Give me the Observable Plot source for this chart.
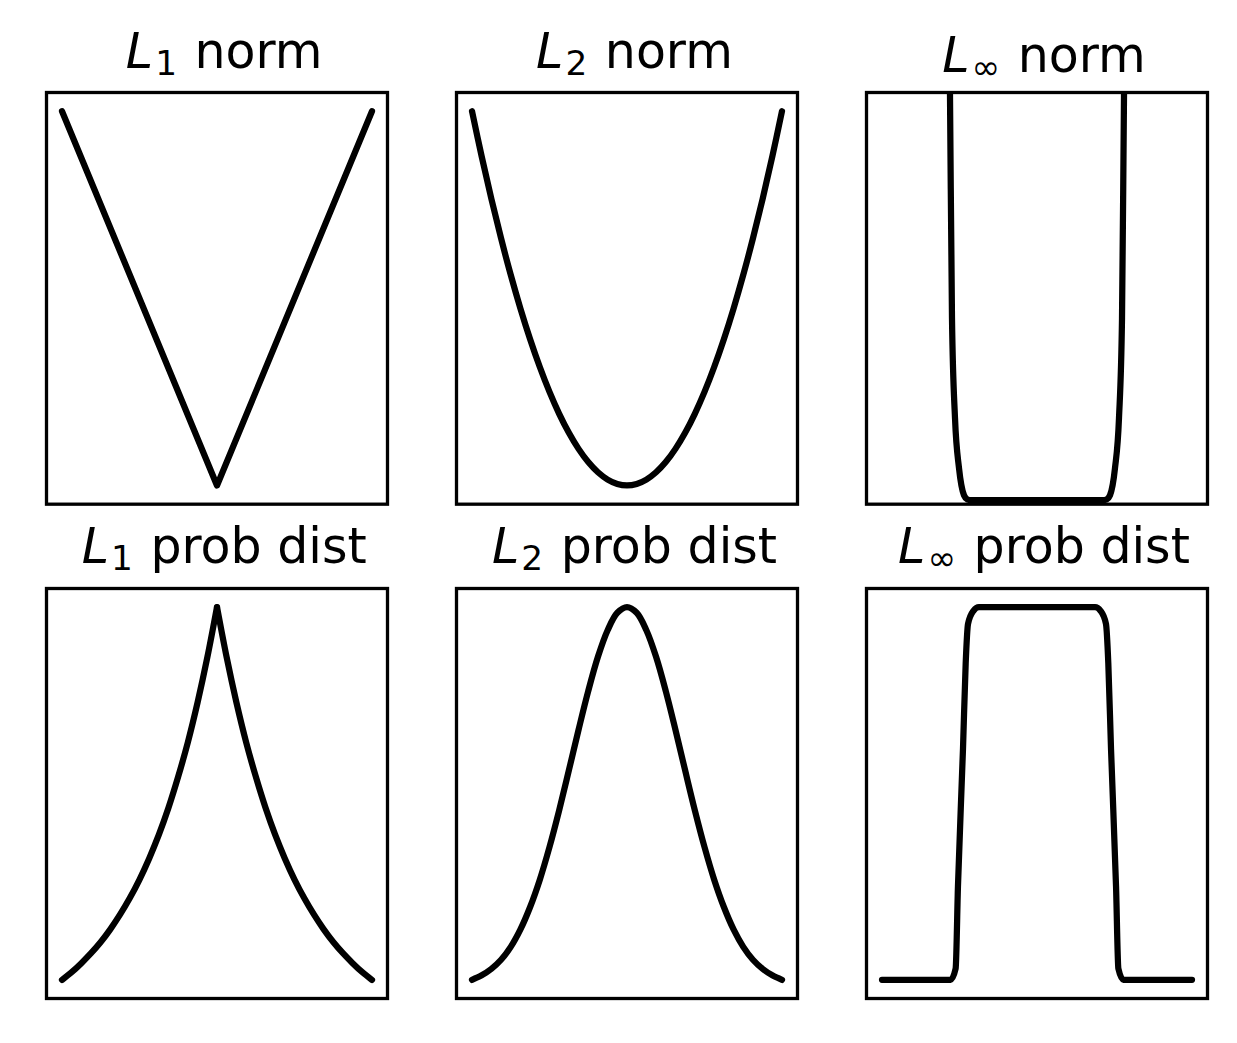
<!DOCTYPE html>
<html><head><meta charset="utf-8">
<script src="https://cdn.jsdelivr.net/npm/d3@7"></script>
<script src="https://cdn.jsdelivr.net/npm/@observablehq/plot@0.6"></script>
<style>
body{margin:0;background:#fff;}
#fig{position:relative;width:1237px;height:1043px;overflow:hidden;font-family:"DejaVu Sans",sans-serif;}
.panel{position:absolute;}
.title{position:absolute;font-size:49px;line-height:50px;white-space:nowrap;text-align:center;color:#000;width:600px;}
.title i{font-style:oblique;}
.title .sb{font-size:70%;line-height:0;position:relative;top:7px;margin-left:2px;margin-right:2px;}
</style></head><body><div id="fig"></div>
<script>
// ---- data ----
const titles = [
  {lab: "1", rest: " norm"}, {lab: "2", rest: " norm"}, {lab: "\u221E", rest: " norm"},
  {lab: "1", rest: " prob dist"}, {lab: "2", rest: " prob dist"}, {lab: "\u221E", rest: " prob dist"}
];
const xGrid = [-2,-1.875,-1.75,-1.625,-1.5,-1.375,-1.25,-1.125,-1,-0.875,-0.75,-0.625,-0.5,-0.375,-0.25,-0.125,
  0,0.125,0.25,0.375,0.5,0.625,0.75,0.875,1,1.125,1.25,1.375,1.5,1.625,1.75,1.875,2];

const l1NormX = [-2, 0, 2];
const l1NormY = [2, 0, 2];

const l2NormY = [4,3.516,3.063,2.641,2.25,1.891,1.563,1.266,1,0.766,0.563,0.391,0.25,0.141,0.063,0.016,
  0,0.016,0.063,0.141,0.25,0.391,0.563,0.766,1,1.266,1.563,1.891,2.25,2.641,3.063,3.516,4];

const linfNormX = [-1.14,-1.123,-1.097,-1.058,-1.006,-0.942,-0.9,-0.852,0.852,0.9,0.942,1.006,1.058,1.097,1.123,1.14];
const linfNormY = [1.3,1,0.446,0.201,0.078,0.012,0.002,0,0,0.002,0.012,0.078,0.201,0.446,1,1.3];

const l1ProbLeftX = [-2,-1.875,-1.75,-1.625,-1.5,-1.375,-1.25,-1.125,-1,-0.875,-0.75,-0.625,-0.5,-0.375,-0.25,-0.125,0];
const l1ProbLeftY = [0.135,0.153,0.174,0.197,0.223,0.253,0.287,0.325,0.368,0.417,0.472,0.535,0.607,0.687,0.779,0.883,1];
const l1ProbRightX = [0,0.125,0.25,0.375,0.5,0.625,0.75,0.875,1,1.125,1.25,1.375,1.5,1.625,1.75,1.875,2];
const l1ProbRightY = [1,0.883,0.779,0.687,0.607,0.535,0.472,0.417,0.368,0.325,0.287,0.253,0.223,0.197,0.174,0.153,0.135];

const l2ProbY = [0.018,0.030,0.047,0.071,0.105,0.151,0.210,0.282,0.368,0.465,0.570,0.677,0.779,0.869,0.939,0.985,
  1,0.985,0.939,0.869,0.779,0.677,0.570,0.465,0.368,0.282,0.210,0.151,0.105,0.071,0.047,0.030,0.018];

const linfProbX = [-2,-1.115,-1.05,-1.02,-0.955,-0.92,-0.89,-0.82,-0.75,0.75,0.82,0.89,0.92,0.955,1.02,1.05,1.115,2];
const linfProbY = [0,0,0.03,0.25,0.62,0.85,0.955,0.99,1,1,0.99,0.955,0.85,0.62,0.25,0.03,0,0];

// ---- build tables ----
const pts = (X, Y, z = "a") => X.map((x, i) => ({x, y: Y[i], z}));
const panels = [
  {data: pts(l1NormX, l1NormY), yd: [-0.1, 2.1], curve: "linear"},
  {data: pts(xGrid, l2NormY), yd: [-0.2, 4.2], curve: "catmull-rom"},
  {data: pts(linfNormX, linfNormY), yd: [-0.01, 1], curve: "monotone-x"},
  {data: pts(l1ProbLeftX, l1ProbLeftY, "L").concat(pts(l1ProbRightX, l1ProbRightY, "R")), yd: [0.092, 1.043], curve: "catmull-rom"},
  {data: pts(xGrid, l2ProbY), yd: [-0.031, 1.049], curve: "catmull-rom"},
  {data: pts(linfProbX, linfProbY), yd: [-0.05, 1.05], curve: "monotone-x"}
];

// ---- layout ----
const colLeft = [45.7, 456, 865.5];
const boxW = 341;
const rowTop = [92.3, 588.3];
const rowH = [411.7, 410];
const titleBase = [[69.3, 69.3, 73.3], [564.3, 564.3, 564.3]];
const M = 4;
const fig = document.getElementById("fig");

panels.forEach((p, i) => {
  const r = Math.floor(i / 3), c = i % 3;
  const svg = Plot.plot({
    width: boxW + 2 * M,
    height: rowH[r] + 2 * M,
    margin: M,
    x: {domain: [-2.2, 2.2], axis: null},
    y: {domain: p.yd, axis: null},
    marks: [
      Plot.line(p.data, {x: "x", y: "y", z: "z", stroke: "black", strokeWidth: 6.25,
        curve: p.curve, clip: true, strokeLinejoin: "round", strokeLinecap: "round"}),
      Plot.frame({stroke: "black", strokeWidth: 3.3})
    ]
  });
  const wrap = document.createElement("div");
  wrap.className = "panel";
  wrap.style.left = (colLeft[c] - M) + "px";
  wrap.style.top = (rowTop[r] - M) + "px";
  wrap.appendChild(svg);
  fig.appendChild(wrap);

  const t = document.createElement("div");
  t.className = "title";
  const cx = colLeft[c] + boxW / 2 + 8;
  t.style.left = (cx - 300) + "px";
  t.style.top = (titleBase[r][c] - 42.0) + "px";
  t.innerHTML = `<i>L</i><span class="sb">${titles[i].lab}</span>${titles[i].rest}`;
  fig.appendChild(t);
});
</script>
</body></html>
